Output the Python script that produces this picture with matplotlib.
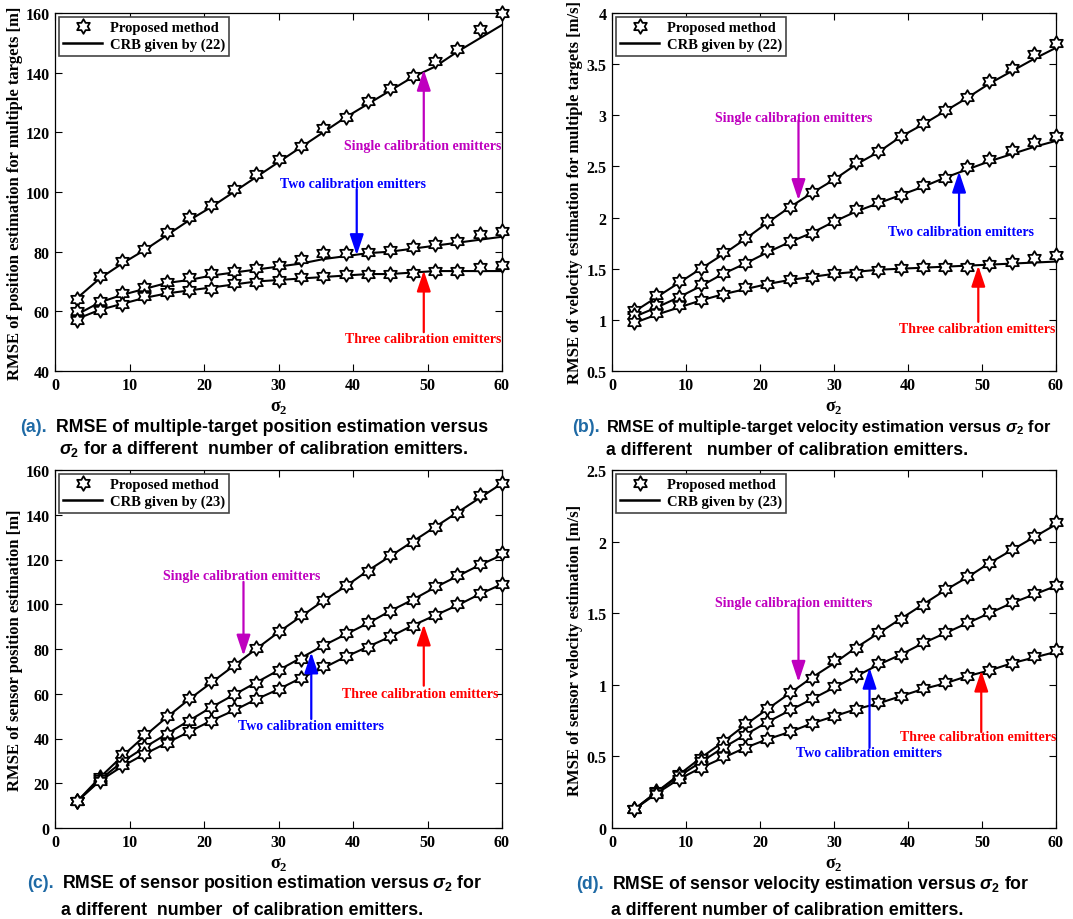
import numpy as np
import matplotlib
matplotlib.use('Agg')
import matplotlib.pyplot as plt
from matplotlib.path import Path
from matplotlib.lines import Line2D
from matplotlib.ticker import FuncFormatter

plt.rcParams['font.family'] = ['Liberation Serif', 'DejaVu Serif']
plt.rcParams['mathtext.fontset'] = 'custom'
plt.rcParams['mathtext.it'] = 'Liberation Sans:italic:bold'
plt.rcParams['mathtext.rm'] = 'Liberation Sans:bold'
plt.rcParams['mathtext.bf'] = 'Liberation Serif:bold'

sigma2 = [3, 6, 9, 12, 15, 18, 21, 24, 27, 30, 33, 36, 39, 42, 45, 48, 51, 54, 57, 60]

# (a) multiple-target position RMSE [m]
a_single = [64, 72, 77, 81, 86.5, 91.5, 95.5, 101, 106, 111, 115.5, 121.5, 125, 130.5, 135, 139, 144, 148, 154.5, 160]
a_single_crb = [64.5, 71, 76, 80.5, 85.5, 90.5, 95, 100, 105, 110, 115, 120, 125, 129.5, 134, 138.5, 142, 147, 151.5, 156]
a_two = [60, 63.5, 66, 68, 70, 71.5, 73, 73.5, 74.5, 75.5, 77.5, 79.5, 79.5, 80, 80.5, 81.5, 82.5, 83.5, 86, 87]
a_two_crb = [59, 63, 65.5, 67.5, 69.5, 70.5, 72, 73, 74, 75, 76, 77.5, 78.5, 79.5, 80, 81, 82, 83, 84, 85]
a_three = [57, 60.5, 62.5, 65, 66.5, 67, 67.5, 69.5, 70, 70.5, 71.5, 72, 72.5, 72.5, 72.5, 73, 73.5, 73.5, 75, 75.5]
a_three_crb = [57.5, 60.5, 62.5, 64.5, 66, 67, 68, 69, 70, 70.5, 71, 71.5, 72, 72.5, 72.5, 73, 73.5, 73.5, 73.5, 73.5]

# (b) multiple-target velocity RMSE [m/s]
b_single = [1.1, 1.24, 1.38, 1.51, 1.66, 1.8, 1.97, 2.1, 2.25, 2.38, 2.54, 2.65, 2.8, 2.92, 3.05, 3.18, 3.34, 3.46, 3.6, 3.71]
b_single_crb = [1.08, 1.22, 1.36, 1.5, 1.64, 1.79, 1.95, 2.1, 2.24, 2.37, 2.52, 2.64, 2.79, 2.91, 3.04, 3.17, 3.31, 3.43, 3.55, 3.66]
b_two = [1.05, 1.15, 1.22, 1.35, 1.46, 1.56, 1.68, 1.77, 1.85, 1.97, 2.08, 2.15, 2.22, 2.32, 2.39, 2.49, 2.57, 2.66, 2.74, 2.8]
b_two_crb = [1.03, 1.12, 1.22, 1.33, 1.45, 1.55, 1.66, 1.76, 1.85, 1.96, 2.06, 2.14, 2.22, 2.3, 2.39, 2.47, 2.55, 2.62, 2.69, 2.75]
b_three = [0.98, 1.07, 1.15, 1.19, 1.25, 1.32, 1.35, 1.4, 1.42, 1.46, 1.46, 1.49, 1.51, 1.52, 1.52, 1.52, 1.55, 1.57, 1.6, 1.63]
b_three_crb = [0.97, 1.05, 1.12, 1.19, 1.25, 1.3, 1.35, 1.39, 1.42, 1.45, 1.47, 1.49, 1.5, 1.51, 1.52, 1.53, 1.54, 1.55, 1.56, 1.57]

# (c) sensor position RMSE [m]
c_single = [12, 23, 33, 42, 50, 58, 65.5, 73, 80.5, 88, 95, 102, 108.5, 115, 122, 128, 134.5, 141, 149, 154]
c_single_crb = [12, 22.5, 32, 41, 49.5, 57.5, 65, 72.5, 80, 87.5, 94.5, 101.5, 108, 115, 121.5, 128, 134.5, 141, 147.5, 154]
c_two = [12, 22, 30, 36, 42, 48, 54, 60, 65, 70.5, 75.5, 82, 87, 92, 97, 102, 108, 113, 118, 123]
c_two_crb = [12, 21.5, 29.5, 36, 42, 48, 54, 59.5, 65, 70.5, 76, 81.5, 86.5, 91.5, 97, 102, 107.5, 112.5, 117.5, 122]
c_three = [12, 21, 28, 33, 38, 43.5, 48, 53, 57.5, 62, 67, 72.5, 77, 81, 86, 90.5, 95, 100, 105, 109]
c_three_crb = [12, 21, 27.5, 33, 38, 43, 48, 52.5, 57.5, 62, 67, 71.5, 76.5, 81, 85.5, 90.5, 95, 99.5, 104.5, 109]

# (d) sensor velocity RMSE [m/s]
d_single = [0.13, 0.26, 0.38, 0.49, 0.61, 0.73, 0.84, 0.95, 1.05, 1.17, 1.26, 1.37, 1.46, 1.56, 1.67, 1.76, 1.85, 1.95, 2.04, 2.14]
d_single_crb = [0.13, 0.25, 0.37, 0.49, 0.6, 0.72, 0.83, 0.94, 1.05, 1.15, 1.26, 1.36, 1.46, 1.56, 1.66, 1.75, 1.85, 1.94, 2.03, 2.12]
d_two = [0.13, 0.25, 0.37, 0.47, 0.56, 0.65, 0.74, 0.83, 0.91, 0.99, 1.07, 1.15, 1.21, 1.3, 1.37, 1.44, 1.51, 1.58, 1.64, 1.7]
d_two_crb = [0.13, 0.25, 0.36, 0.46, 0.56, 0.65, 0.74, 0.82, 0.9, 0.98, 1.06, 1.14, 1.21, 1.29, 1.36, 1.43, 1.5, 1.57, 1.63, 1.69]
d_three = [0.13, 0.24, 0.34, 0.42, 0.5, 0.56, 0.62, 0.68, 0.73, 0.78, 0.83, 0.88, 0.92, 0.98, 1.02, 1.06, 1.1, 1.15, 1.2, 1.24]
d_three_crb = [0.13, 0.24, 0.34, 0.42, 0.49, 0.56, 0.62, 0.67, 0.73, 0.78, 0.83, 0.87, 0.92, 0.97, 1.01, 1.06, 1.1, 1.15, 1.19, 1.23]

W, H = 1073, 920
fig = plt.figure(figsize=(W / 100, H / 100), dpi=100)

# hexagram marker like MATLAB's 'h'
hexagram = Path.unit_regular_star(6, 0.577)

panels = [
    dict(px=(55, 14, 502, 372), ylim=(40, 160), yticks=np.arange(40, 161, 20),
         ylabel='RMSE of position estimation for multiple targets [m]', crb='CRB given by (22)',
         series=[(a_single, a_single_crb), (a_two, a_two_crb), (a_three, a_three_crb)],
         notes=[('Single calibration emitters', 'm', 49.3, 115.6, 49.5, 117, 141),
                ('Two calibration emitters', 'b', 40.0, 103, 40.5, 101, 78.8),
                ('Three calibration emitters', 'r', 49.4, 51, 49.5, 53, 73.7)]),
    dict(px=(612, 14, 1056, 372), ylim=(0.5, 4), yticks=np.arange(0.5, 4.01, 0.5),
         ylabel='RMSE of velocity estimation for multiple targets [m/s]', crb='CRB given by (22)',
         series=[(b_single, b_single_crb), (b_two, b_two_crb), (b_three, b_three_crb)],
         notes=[('Single calibration emitters', 'm', 24.6, 2.98, 25.2, 2.95, 2.17),
                ('Two calibration emitters', 'b', 47.1, 1.86, 46.9, 1.92, 2.45),
                ('Three calibration emitters', 'r', 49.4, 0.92, 49.5, 0.98, 1.53)]),
    dict(px=(55, 471, 502, 829), ylim=(0, 160), yticks=np.arange(0, 161, 20),
         ylabel='RMSE of sensor position estimation [m]', crb='CRB given by (23)',
         series=[(c_single, c_single_crb), (c_two, c_two_crb), (c_three, c_three_crb)],
         notes=[('Single calibration emitters', 'm', 25.0, 113, 25.3, 110, 77),
                ('Two calibration emitters', 'b', 34.4, 45.7, 34.4, 48.7, 78.5),
                ('Three calibration emitters', 'r', 49.0, 60.2, 49.5, 63.6, 91)]),
    dict(px=(612, 471, 1056, 829), ylim=(0, 2.5), yticks=np.arange(0, 2.51, 0.5),
         ylabel='RMSE of sensor velocity estimation [m/s]', crb='CRB given by (23)',
         series=[(d_single, d_single_crb), (d_two, d_two_crb), (d_three, d_three_crb)],
         notes=[('Single calibration emitters', 'm', 24.6, 1.576, 25.2, 1.55, 1.02),
                ('Two calibration emitters', 'b', 34.7, 0.53, 34.8, 0.56, 1.12),
                ('Three calibration emitters', 'r', 49.5, 0.64, 49.9, 0.67, 1.1)]),
]

for p in panels:
    l, t, r, b = p['px']
    ax = fig.add_axes([l / W, 1 - b / H, (r - l) / W, (b - t) / H])
    for mk, crb in p['series']:
        ax.plot(sigma2, crb, color='k', lw=1.5, zorder=2)
        ax.plot(sigma2, mk, ls='none', marker=hexagram, ms=10.5, mfc='white', mec='k',
                mew=1.3, zorder=3, clip_on=False)
    ax.set_xlim(0, 60)
    ax.set_ylim(*p['ylim'])
    ax.set_xticks(np.arange(0, 61, 10))
    ax.set_yticks(p['yticks'])
    ax.yaxis.set_major_formatter(FuncFormatter(lambda v, pos: '%g' % v))
    ax.tick_params(direction='in', top=True, right=True, length=5, width=0.8,
                   labelsize=11.5, pad=4)
    for lab in ax.get_xticklabels() + ax.get_yticklabels():
        lab.set_fontweight('bold')
    for sp in ax.spines.values():
        sp.set_linewidth(0.9)
    ax.set_ylabel(p['ylabel'], fontsize=12, fontweight='bold', labelpad=2)
    ax.set_xlabel('σ$_\\mathbf{2}$', fontsize=13, fontweight='bold', labelpad=3)

    for txt, col, tx, ty, axx, y0, y1 in p['notes']:
        ax.text(tx, ty, txt, color=col, fontsize=10, fontweight='bold',
                ha='center', va='center', zorder=5)
        ax.annotate('', xy=(axx, y1), xytext=(axx, y0),
                    arrowprops=dict(arrowstyle='-|>,head_length=0.9,head_width=0.3',
                                    color=col, lw=1.6, shrinkA=0, shrinkB=0,
                                    mutation_scale=14), zorder=5)

    handles = [Line2D([], [], ls='none', marker=hexagram, ms=10.5, mfc='white', mec='k', mew=1.3),
               Line2D([], [], color='k', lw=1.8)]
    leg = ax.legend(handles, ['Proposed method', p['crb']], loc='upper left',
                    prop=dict(family='Liberation Serif', weight='bold', size=10.5),
                    fancybox=False, framealpha=1, edgecolor='#444444',
                    borderaxespad=0.25, handlelength=2.7, borderpad=0.3,
                    labelspacing=0.25, handletextpad=0.5)
    leg.get_frame().set_linewidth(1.2)

# captions under each panel
cap_color = '#1f6aa5'
cap_font = dict(family='Liberation Sans', fontweight='bold', va='center')
captions = [
    ((20, 427), '(a).', (56, 427), 'RMSE of multiple-target position estimation versus',
     (59, 449), '$\\sigma_2$ for a different  number of calibration emitters.', 12.8),
    ((572, 428), '(b).', (606, 428), 'RMSE of multiple-target velocity estimation versus $\\sigma_2$ for',
     (606, 451), 'a different   number of calibration emitters.', 11.8),
    ((27, 884), '(c).', (62, 884), 'RMSE of sensor position estimation versus $\\sigma_2$ for',
     (61, 911), 'a different  number  of calibration emitters.', 12.8),
    ((576, 885), '(d).', (612, 885), 'RMSE of sensor velocity estimation versus $\\sigma_2$ for',
     (611, 911), 'a different number of calibration emitters.', 12.8),
]
for (lx, ly), lab, (x1, y1), line1, (x2, y2), line2, fs1 in captions:
    fig.text(lx / W, 1 - ly / H, lab, color=cap_color, fontsize=12.8, **cap_font)
    fig.text(x1 / W, 1 - y1 / H, line1, color='k', fontsize=fs1, **cap_font)
    fig.text(x2 / W, 1 - y2 / H, line2, color='k', fontsize=12.8, **cap_font)

fig.savefig('out.png', dpi=100)
